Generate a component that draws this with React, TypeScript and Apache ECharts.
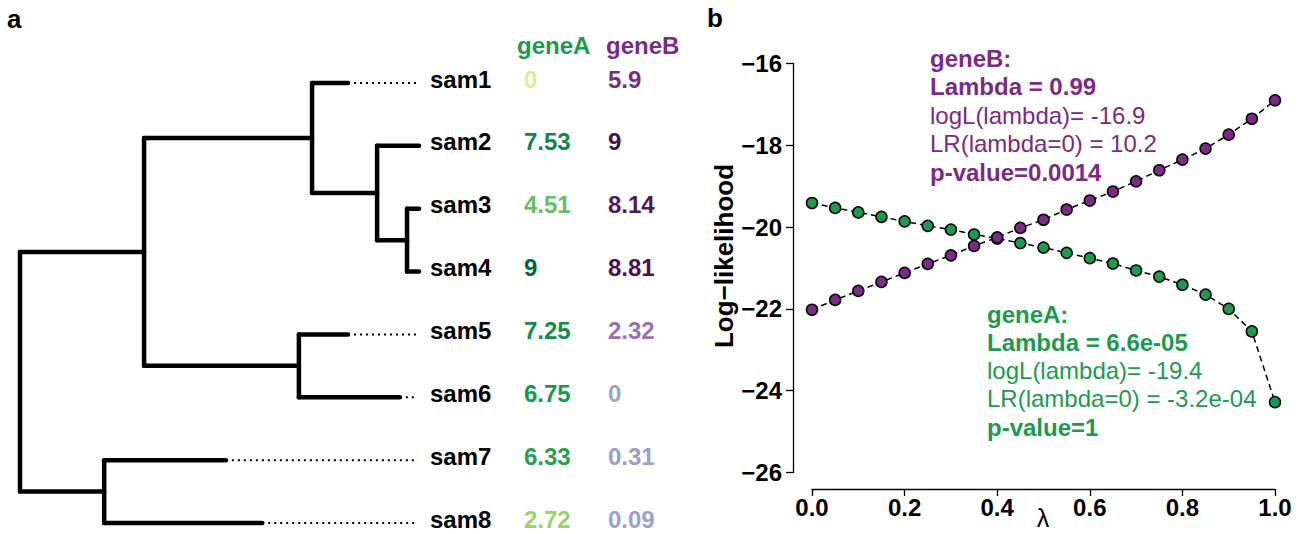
import React, { useEffect, useRef } from 'react';
import * as echarts from 'echarts';

// ---------- Panel a data ----------
const tipLabels = ['sam1', 'sam2', 'sam3', 'sam4', 'sam5', 'sam6', 'sam7', 'sam8'];
const geneAValues = [0, 7.53, 4.51, 9, 7.25, 6.75, 6.33, 2.72];
const geneBValues = [5.9, 9, 8.14, 8.81, 2.32, 0, 0.31, 0.09];
// depth at which each tip's solid branch ends (root = 0, label column = 1)
const tipDepths = [0.822, 1.0, 1.0, 1.0, 0.822, 0.952, 0.516, 0.607];
// internal nodes
const nodeNames = ['root', 'n1', 'n2', 'n3', 'n4', 'n5', 'n6'];
const nodeDepths = [0, 0.311, 0.732, 0.895, 0.97, 0.699, 0.211];
const nodeChildren = [
  ['n1', 'n6'],
  ['n2', 'n5'],
  ['sam1', 'n3'],
  ['sam2', 'n4'],
  ['sam3', 'sam4'],
  ['sam5', 'sam6'],
  ['sam7', 'sam8'],
];

// ---------- Panel b data ----------
const lambdaValues = [0, 0.05, 0.1, 0.15, 0.2, 0.25, 0.3, 0.35, 0.4, 0.45, 0.5, 0.55, 0.6, 0.65, 0.7, 0.75, 0.8, 0.85, 0.9, 0.95, 1.0];
const geneALogL = [-19.41, -19.53, -19.64, -19.75, -19.86, -19.97, -20.06, -20.18, -20.28, -20.39, -20.5, -20.63, -20.76, -20.89, -21.06, -21.21, -21.41, -21.65, -22.0, -22.55, -24.28];
const geneBLogL = [-22.02, -21.78, -21.56, -21.34, -21.12, -20.9, -20.69, -20.46, -20.25, -20.02, -19.82, -19.57, -19.35, -19.13, -18.88, -18.61, -18.35, -18.08, -17.74, -17.35, -16.9];
const yTicks = [-26, -24, -22, -20, -18, -16];
const geneBNote = ['geneB:', 'Lambda = 0.99', 'logL(lambda)= -16.9', 'LR(lambda=0) = 10.2', 'p-value=0.0014'];
const geneANote = ['geneA:', 'Lambda = 6.6e-05', 'logL(lambda)= -19.4', 'LR(lambda=0) = -3.2e-04', 'p-value=1'];
const noteBold = [true, true, false, false, true];

const FONT = '"Liberation Sans", Arial, Helvetica, sans-serif';
const GREEN = '#1e9a50';
const PURPLE = '#7b2a85';

const greenStops = ['#d9ef8b', '#a6d96a', '#66bd63', '#1a9850', '#006837'];
const purpleStops = ['#9ba3d4', '#9972b0', '#8a4a9d', '#6a1f75', '#461050'];

function hexToRgb(h: string) {
  const n = parseInt(h.slice(1), 16);
  return [(n >> 16) & 255, (n >> 8) & 255, n & 255];
}
function rampColor(stops: string[], v: number, max: number) {
  const t = Math.max(0, Math.min(1, v / max)) * (stops.length - 1);
  const i = Math.min(stops.length - 2, Math.floor(t));
  const f = t - i;
  const a = hexToRgb(stops[i]);
  const b = hexToRgb(stops[i + 1]);
  const c = a.map((x, k) => Math.round(x + (b[k] - x) * f));
  return `rgb(${c[0]},${c[1]},${c[2]})`;
}

function buildTreeSegments() {
  const yOf: Record<string, number> = {};
  const depthOf: Record<string, number> = {};
  tipLabels.forEach((t, i) => {
    yOf[t] = i;
    depthOf[t] = tipDepths[i];
  });
  nodeNames.forEach((n, i) => (depthOf[n] = nodeDepths[i]));
  const getY = (name: string): number => {
    if (name in yOf) return yOf[name];
    const idx = nodeNames.indexOf(name);
    const ch = nodeChildren[idx];
    const y = (getY(ch[0]) + getY(ch[1])) / 2;
    yOf[name] = y;
    return y;
  };
  const segs: number[][] = [];
  nodeNames.forEach((n, i) => {
    const d = nodeDepths[i];
    const ch = nodeChildren[i];
    const ys = ch.map(getY);
    segs.push([d, ys[0], d, ys[1], 0]);
    ch.forEach((c, k) => {
      segs.push([d, ys[k], depthOf[c], ys[k], 0]);
      if (tipLabels.includes(c) && depthOf[c] < 1) {
        segs.push([depthOf[c], ys[k], 0.995, ys[k], 1]);
      }
    });
  });
  return segs;
}

export default function App() {
  const ref = useRef<HTMLDivElement>(null);
  useEffect(() => {
    if (!ref.current) return;
    const chart = echarts.init(ref.current, null, { renderer: 'svg' });
    const segs = buildTreeSegments();

    const textEl = (x: number, y: number, text: string, fill: string, bold: boolean, size = 24, extra: any = {}) => ({
      type: 'text',
      x,
      y,
      ...extra,
      style: {
        text,
        fill,
        font: `${bold ? 'bold ' : ''}${size}px ${FONT}`,
        align: extra.align || 'left',
        verticalAlign: 'middle',
      },
    });

    const graphics: any[] = [
      textEl(7, 19, 'a', '#000', true, 26),
      textEl(707, 18, 'b', '#000', true, 26),
      textEl(517, 45, 'geneA', GREEN, true, 24),
      textEl(606, 45, 'geneB', PURPLE, true, 24),
      textEl(724, 256, 'Log\u2212likelihood', '#000', true, 26, { rotation: Math.PI / 2, align: 'center' }),
      textEl(1043, 518, '\u03bb', '#000', false, 25, { align: 'center' }),
    ];
    geneBNote.forEach((s, i) => graphics.push(textEl(930, 58 + i * 28.5, s, PURPLE, noteBold[i], 24)));
    geneANote.forEach((s, i) => graphics.push(textEl(987, 314 + i * 28.3, s, GREEN, noteBold[i], 24)));

    const axisCommon = {
      axisLine: { show: true, onZero: false, lineStyle: { color: '#000', width: 1.3 } },
      axisTick: { show: true, length: 7, lineStyle: { color: '#000', width: 1.3 } },
      splitLine: { show: false },
    };

    chart.setOption({
      animation: false,
      backgroundColor: '#fff',
      grid: [
        { left: 20, top: 83, width: 399, height: 440 },
        { left: 812, top: 63.5, width: 463, height: 409 },
      ],
      xAxis: [
        { gridIndex: 0, type: 'value', min: 0, max: 1, show: false },
        {
          gridIndex: 1,
          type: 'value',
          min: 0,
          max: 1,
          interval: 0.2,
          offset: 16.5,
          ...axisCommon,
          axisLabel: {
            formatter: (v: number) => v.toFixed(1),
            fontSize: 24,
            fontWeight: 'bold',
            fontFamily: FONT,
            color: '#000',
            margin: 6,
            showMinLabel: true,
            showMaxLabel: true,
          },
        },
      ],
      yAxis: [
        { gridIndex: 0, type: 'value', min: 0, max: 7, inverse: true, show: false },
        {
          gridIndex: 1,
          type: 'value',
          min: yTicks[0],
          max: yTicks[yTicks.length - 1],
          interval: 2,
          offset: 19,
          ...axisCommon,
          axisLabel: {
            formatter: (v: number) => (v < 0 ? '\u2212' : '') + Math.abs(v),
            fontSize: 24,
            fontWeight: 'bold',
            fontFamily: FONT,
            color: '#000',
            margin: 11,
            showMinLabel: true,
            showMaxLabel: true,
          },
        },
      ],
      graphic: graphics,
      series: [
        {
          type: 'custom',
          xAxisIndex: 0,
          yAxisIndex: 0,
          data: segs,
          encode: { x: [0, 2], y: [1, 3] },
          renderItem: (params: any, api: any) => {
            const p1 = api.coord([api.value(0), api.value(1)]);
            const p2 = api.coord([api.value(2), api.value(3)]);
            const dotted = api.value(4) === 1;
            return {
              type: 'line',
              shape: { x1: p1[0], y1: p1[1], x2: p2[0], y2: p2[1] },
              style: dotted
                ? { stroke: '#000', lineWidth: 2, lineDash: [2, 4], lineCap: 'butt' }
                : { stroke: '#000', lineWidth: 4.5, lineCap: 'round' },
            };
          },
        },
        {
          type: 'custom',
          xAxisIndex: 0,
          yAxisIndex: 0,
          data: tipLabels.map((_, i) => [1, i]),
          renderItem: (params: any, api: any) => {
            const i = api.value(1);
            const p = api.coord([1, i]);
            const y = p[1] - 4;
            const mk = (x: number, text: string, fill: string) => ({
              type: 'text',
              x,
              y,
              style: { text, fill, font: `bold 24px ${FONT}`, align: 'left', verticalAlign: 'middle' },
            });
            return {
              type: 'group',
              children: [
                mk(p[0] + 11, tipLabels[i], '#000'),
                mk(p[0] + 105, String(geneAValues[i]), rampColor(greenStops, geneAValues[i], 9)),
                mk(p[0] + 189, String(geneBValues[i]), rampColor(purpleStops, geneBValues[i], 9)),
              ],
            };
          },
        },
        {
          type: 'line',
          xAxisIndex: 1,
          yAxisIndex: 1,
          data: lambdaValues.map((x, i) => [x, geneALogL[i]]),
          symbol: 'circle',
          symbolSize: 11,
          itemStyle: { color: GREEN, borderColor: '#000', borderWidth: 1.5 },
          lineStyle: { color: '#000', width: 1.5, type: [6, 4] },
          z: 3,
        },
        {
          type: 'line',
          xAxisIndex: 1,
          yAxisIndex: 1,
          data: lambdaValues.map((x, i) => [x, geneBLogL[i]]),
          symbol: 'circle',
          symbolSize: 11,
          itemStyle: { color: PURPLE, borderColor: '#000', borderWidth: 1.5 },
          lineStyle: { color: '#000', width: 1.5, type: [6, 4] },
          z: 4,
        },
      ],
    });
    return () => chart.dispose();
  }, []);
  return <div ref={ref} style={{ position: 'fixed', left: 0, top: 0, width: 1306, height: 534 }} />;
}
